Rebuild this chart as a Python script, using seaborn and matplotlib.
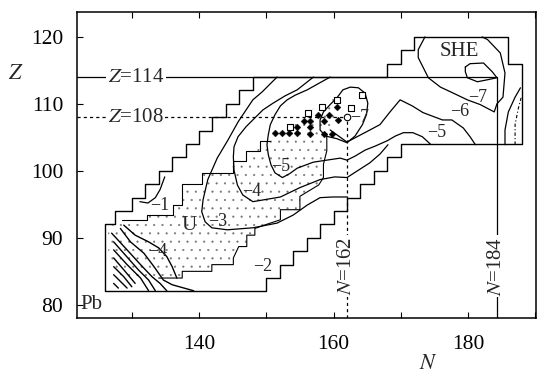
import numpy as np
import pandas as pd
import seaborn as sns
import matplotlib.pyplot as plt
from matplotlib.patches import Polygon

# ---- data: (N, Z) polylines ----
outer_N = [168, 148, 148, 146, 146, 144, 144, 142, 142, 140, 140, 138, 138, 136, 136, 134, 134, 132, 132, 130, 130,
           127.5, 127.5, 126, 126, 150, 150, 152, 152, 154, 154, 156, 156, 158, 158, 160, 160, 162, 162, 164, 164,
           166, 166, 168, 168, 170, 170, 188, 188, 186, 186, 172, 172, 170, 170, 168, 168]
outer_Z = [114, 114, 112, 112, 110, 110, 108, 108, 106, 106, 104, 104, 102, 102, 100, 100, 98, 98, 96, 96, 94,
           94, 92, 92, 82, 82, 84, 84, 86, 86, 88, 88, 90, 90, 92, 92, 94, 94, 96, 96, 98,
           98, 100, 100, 102, 102, 104, 104, 116, 116, 120, 120, 118, 118, 116, 116, 114]

# region of known nuclei (dotted)
known_N = [126.5, 128.5, 132.3, 132.3, 136.2, 136.2, 137.5, 137.5, 140.5, 140.5, 145, 145, 147, 149, 150.5, 152,
           154, 156, 158, 160, 161, 160.5, 160, 159, 159, 158.5, 158.5, 157.8, 155, 155, 152.1, 152.1, 148.3,
           148.3, 147.1, 147.1, 145.9, 145.1, 145.1, 141.9, 141.9, 137.5, 137.5, 131, 128, 126.5]
known_Z = [91.5, 92.7, 92.7, 93.4, 93.4, 94.9, 94.9, 98, 98, 99.7, 99.7, 101.5, 101.5, 103.5, 105, 106,
           107, 108.5, 110, 111, 110, 107.5, 106, 105.5, 103, 101, 99, 97.9, 96.2, 94.2, 94.2, 92.7, 91.4,
           90.4, 90.4, 88.7, 88.7, 87, 86, 86, 85, 85, 84, 84, 84.5, 86]

# visible edges of the known region
edge_lo_N = [134, 137.5, 137.5, 141.9, 141.9, 145.1, 145.1, 145.9, 147.1, 147.1, 148.3, 148.3, 150, 152.1,
             152.1, 155, 155, 157.8, 158.5, 158.5, 159, 159]
edge_lo_Z = [84, 84, 85, 85, 86, 86, 87, 88.7, 88.7, 90.4, 90.4, 91.4, 92, 92.7,
             94.2, 94.2, 96.2, 97.9, 99, 101, 103, 105.5]
edge_up_N = [128.5, 132.3, 132.3, 136.2, 136.2, 137.5, 137.5, 140.5, 140.5, 145, 145, 147, 147, 149, 149, 150.5]
edge_up_Z = [92.7, 92.7, 93.4, 93.4, 94.9, 94.9, 98, 98, 99.7, 99.7, 101.5, 101.5, 103, 103, 104.5, 104.5]

c1_N = [134.9, 134.2, 133.5, 132.4, 131.2]
c1_Z = [99.1, 97.2, 96.0, 95.2, 95.4]

c3_N = [151.6, 150.6, 149.4, 148.0, 146.8, 145.8, 144.3, 142.7, 141.3, 140.6, 140.4, 140.9, 141.9, 144.2, 148.0,
        151.6, 154.0, 156.1, 158.0, 159.9, 162.0]
c3_Z = [114.0, 113.0, 111.8, 110.6, 108.8, 107.3, 104.6, 101.9, 98.7, 95.7, 93.9, 92.4, 91.5, 91.2, 91.5,
        92.2, 93.4, 94.9, 96.0, 96.1, 96.1]

c4_N = [157.0, 156.5, 154.6, 152.8, 151.0, 149.5, 148.3, 147.0, 145.8, 145.2, 145.1, 145.2, 145.7, 146.5, 148.0,
        152.1, 155.0, 158.0, 160.2, 162.0, 163.7, 165.4, 166.9, 168.1]
c4_Z = [114.0, 113.6, 112.1, 111.2, 110.1, 109.1, 107.9, 106.6, 105.1, 103.6, 102.1, 100.1, 97.9, 96.4, 95.4,
        96.1, 97.5, 98.7, 99.1, 99.0, 100.1, 101.2, 102.5, 103.9]

c5_N = [159.5, 157.7, 156.1, 154.3, 153.1, 152.1, 151.3, 150.6, 150.3, 150.1, 150.3, 150.7, 151.3, 152.4, 153.5,
        154.6, 157.0, 159.0, 161.0, 162.0, 163.2, 164.7, 166.2, 168.0, 169.2, 170.4, 171.8, 173.2, 174.4]
c5_Z = [114.0, 113.0, 112.1, 111.3, 110.6, 109.7, 108.4, 106.9, 105.4, 103.9, 102.4, 100.9, 99.7, 99.0, 99.6,
        100.4, 101.3, 101.6, 101.9, 101.6, 102.2, 103.1, 103.7, 104.5, 105.2, 105.7, 105.7, 105.1, 104.0]

c6_N = [159.5, 162.0, 163.7, 165.4, 166.9, 168.4, 169.9, 171.7, 173.3, 176.2, 177.6, 179.3, 180.3, 181.1]
c6_Z = [106.1, 104.3, 105.2, 106.1, 106.9, 108.8, 110.6, 109.7, 108.7, 107.6, 107.6, 106.4, 105.1, 103.9]

island_N = [160.5, 161.4, 162.5, 163.7, 164.7, 165.1, 164.9, 164.3, 163.2, 162.0, 160.5, 158.8, 158.0, 158.0,
            158.5, 159.5, 160.5]
island_Z = [110.9, 112.1, 112.5, 112.4, 111.6, 110.1, 108.4, 106.9, 105.2, 104.2, 104.8, 105.2, 106.1, 107.6,
            108.8, 109.9, 110.9]

she7_N = [173.6, 172.6, 172.6, 174.1, 175.9, 177.4, 179.9, 181.8, 183.9, 184.3, 185.2, 185.5, 184.8, 182.9, 182.1]
she7_Z = [120.0, 118.1, 116.9, 113.9, 112.5, 111.8, 110.6, 109.9, 108.8, 110.0, 111.0, 114.6, 117.6, 119.6, 120.0]

she8_N = [179.6, 180.3, 182.3, 183.6, 184.3, 182.9, 181.4, 179.9, 179.6, 179.6]
she8_Z = [115.5, 116.0, 116.1, 114.8, 113.9, 113.6, 113.3, 113.9, 114.8, 115.5]

right_N = [185.5, 185.5, 186.0, 187.0, 187.8]
right_Z = [103.9, 106.1, 108.8, 111.0, 112.4]
dashdot_N = [187.0, 187.0, 187.5, 187.9]
dashdot_Z = [103.9, 106.9, 109.4, 110.9]

# lower-left (Pb) bundle of contours
pb_lines = [
    ([128.8, 130.5, 132.5, 134.0, 135.2, 136.0, 136.7], [91.9, 90.4, 89.4, 88.5, 87.2, 85.7, 84.0]),
    ([128.3, 129.8, 131.8, 133.3, 134.7, 136.0, 139.2], [91.4, 89.4, 87.7, 85.7, 83.7, 83.0, 82.1]),
    ([127.0, 129.3, 131.3, 133.0, 134.2, 135.2], [90.7, 88.2, 86.0, 84.2, 83.2, 82.1]),
    ([127.3, 131.0, 132.5, 133.5], [89.4, 85.2, 83.7, 82.1]),
    ([127.3, 129.3, 131.3, 132.5], [88.2, 86.0, 84.0, 82.1]),
    ([127.3, 129.0, 130.5], [87.0, 85.0, 83.2]),
    ([127.3, 128.8, 130.0], [85.7, 84.2, 82.7]),
    ([127.3, 129.3], [84.5, 82.5]),
    ([127.3, 128.0], [83.2, 82.5]),
]

she_sq_N = [153.5, 156.2, 158.3, 160.5, 164.3, 162.6]
she_sq_Z = [106.6, 108.7, 109.6, 110.6, 111.3, 109.4]
she_dm_N = [151.3, 152.4, 153.4, 154.5, 156.5, 156.5, 158.6, 159.7, 154.6, 155.6, 156.5, 157.7, 158.6, 160.6,
            160.5, 159.3]
she_dm_Z = [105.6, 105.6, 105.6, 105.6, 105.5, 106.5, 105.5, 105.5, 106.6, 107.5, 107.5, 108.4, 107.4, 107.6,
            109.5, 108.4]

labels = [(134.2, 94.8, '−1'), (133.9, 87.9, '−4'), (142.7, 92.5, '−3'), (147.9, 96.9, '−4'),
          (149.5, 85.7, '−2'), (152.1, 100.6, '−5'), (163.9, 107.9, '−7'), (181.5, 111.0, '−7'),
          (178.7, 108.8, '−6'), (175.4, 105.8, '−5')]

# ---- figure ----
sns.set_theme(style='ticks')
plt.rcParams['font.family'] = ['Liberation Serif', 'DejaVu Serif']
plt.rcParams['mathtext.fontset'] = 'stix'
plt.rcParams['hatch.linewidth'] = 0.3

fig, ax = plt.subplots(figsize=(5.37, 3.78), dpi=100)
fig.subplots_adjust(left=0.1434, right=0.998, bottom=0.159, top=0.968)


def line(xs, ys, lw=0.9, **kw):
    sns.lineplot(x=xs, y=ys, sort=False, estimator=None, ax=ax, color='black', lw=lw, **kw)


ax.add_patch(Polygon(np.column_stack([known_N, known_Z]), closed=True, fill=False,
                     hatch='..', lw=0, edgecolor='0.45'))
line(edge_lo_N, edge_lo_Z, lw=0.8)
line(edge_up_N, edge_up_Z, lw=0.8)
line(outer_N, outer_Z, lw=1.0)

for xs, ys in [(c1_N, c1_Z), (c3_N, c3_Z), (c4_N, c4_Z), (c5_N, c5_Z), (c6_N, c6_Z),
               (island_N, island_Z), (she7_N, she7_Z), (she8_N, she8_Z), (right_N, right_Z)]:
    line(xs, ys)
for xs, ys in pb_lines:
    line(xs, ys, lw=1.0)
line(dashdot_N, dashdot_Z, lw=0.8, linestyle=(0, (3, 2, 1, 2)))

# magic-number guide lines
line([121.85, 184.3], [114, 114], lw=0.9)
line([121.85, 162], [108, 108], lw=0.9, linestyle=(0, (2.5, 2.5)))
line([162, 162], [78.05, 108], lw=0.9, linestyle=(0, (2.5, 2.5)))
line([184.3, 184.3], [78.05, 114], lw=0.9)

sns.scatterplot(x=she_dm_N, y=she_dm_Z, marker='D', s=12, color='black', edgecolor='black', ax=ax, zorder=5)
sns.scatterplot(x=she_sq_N, y=she_sq_Z, marker='s', s=22, facecolor='white', edgecolor='black',
                linewidth=0.8, ax=ax, zorder=5)
sns.scatterplot(x=[162.0], y=[108.1], marker='o', s=22, facecolor='white', edgecolor='black',
                linewidth=0.8, ax=ax, zorder=5)

box = dict(facecolor='white', edgecolor='none', pad=1.0)
ax.text(130.6, 114, '$Z$=114', fontsize=15, ha='center', va='center', bbox=box)
ax.text(130.6, 108, '$Z$=108', fontsize=15, ha='center', va='center', bbox=box)
ax.text(162, 85.8, '$N$=162', fontsize=15, ha='center', va='center', rotation=90, bbox=box)
ax.text(184.3, 85.8, '$N$=184', fontsize=15, ha='center', va='center', rotation=90, bbox=box)
for x, y, t in labels:
    ax.text(x, y, t, fontsize=13, ha='center', va='center')
ax.text(178.7, 117.8, 'SHE', fontsize=15, ha='center', va='center')
ax.text(138.5, 91.8, 'U', fontsize=15, ha='center', va='center')
ax.text(122.3, 80, 'Pb', fontsize=15, ha='left', va='center')
ax.text(-0.133, 0.797, '$Z$', fontsize=16, ha='center', va='center', transform=ax.transAxes)
ax.text(0.765, -0.152, '$N$', fontsize=16, ha='center', va='center', transform=ax.transAxes)

ax.set_xlim(121.85, 190.1)
ax.set_ylim(78.05, 123.7)
ax.set_xticks([130, 140, 150, 160, 170, 180, 190])
ax.set_xticklabels(['', '140', '', '160', '', '180', ''])
ax.set_yticks([80, 90, 100, 110, 120])
ax.set_xlabel('')
ax.set_ylabel('')
ax.tick_params(direction='in', top=True, right=False, length=4, width=0.8, labelsize=15.5, colors='black')
ax.tick_params(axis='x', pad=12)
ax.tick_params(axis='y', pad=10)
for s in ax.spines.values():
    s.set_linewidth(1.1)
    s.set_color('black')

fig.savefig('out.png', dpi=100)
